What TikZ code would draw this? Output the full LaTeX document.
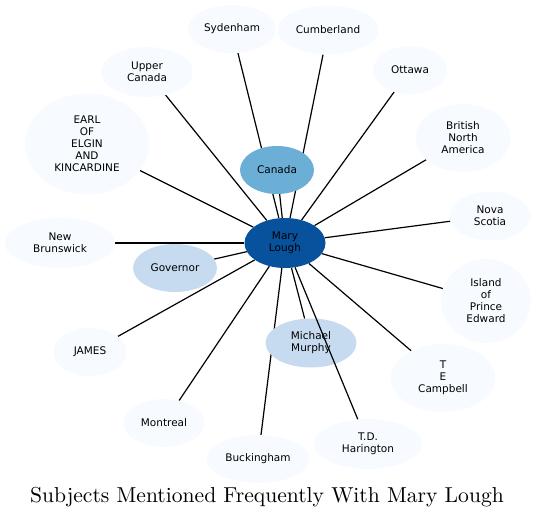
\documentclass[tikz,border=0pt]{standalone}
\usepackage{fontspec}
\newfontfamily\labelfont{DejaVu Sans}
\newfontfamily\titlefont{lmroman10-regular.otf}
\usetikzlibrary{shapes.geometric}
\pgfdeclarelayer{background}
\pgfsetlayers{background,main}
\definecolor{blue0}{HTML}{F7FBFF}
\definecolor{blue1}{HTML}{C6DBEF}
\definecolor{blue2}{HTML}{6BAED6}
\definecolor{blue3}{HTML}{08519C}

\begin{document}
\begin{tikzpicture}[x=1pt,y=-1pt]
\tikzstyle{subject}=[ellipse,fill=blue0,inner sep=0pt,align=center,
	font=\labelfont\fontsize{10.5}{12}\selectfont]
\tikzstyle{link}=[line width=1.2pt]
\useasboundingbox (0,0) rectangle (536,519);

% the subjects, at their places round Mary Lough
\node[subject,fill=blue3,minimum width=81pt,minimum height=50pt] (ml) at (285,243) {Mary\\Lough};
\node[subject,fill=blue2,minimum width=74pt,minimum height=48pt] (can) at (277,170) {Canada};
\node[subject,fill=blue1,minimum width=84pt,minimum height=48pt] (gov) at (175,268) {Governor};
\node[subject,fill=blue1,minimum width=91pt,minimum height=49pt] (mmu) at (311,343) {Michael\\Murphy};
\node[subject,minimum width=88pt,minimum height=48pt] (syd) at (232,29) {Sydenham};
\node[subject,minimum width=101pt,minimum height=49pt] (cum) at (328,30) {Cumberland};
\node[subject,minimum width=92pt,minimum height=50pt] (upc) at (147,72) {Upper\\Canada};
\node[subject,minimum width=124pt,minimum height=101pt] (earl) at (87,144) {EARL\\OF\\ELGIN\\AND\\KINCARDINE};
\node[subject,minimum width=110pt,minimum height=50pt] (nbr) at (60,243) {New\\Brunswick};
\node[subject,minimum width=74pt,minimum height=48pt] (ott) at (410,70) {Ottawa};
\node[subject,minimum width=95pt,minimum height=68pt] (bna) at (463,138) {British\\North\\America};
\node[subject,minimum width=81pt,minimum height=49pt] (nov) at (490,216) {Nova\\Scotia};
\node[subject,minimum width=90pt,minimum height=84pt] (ipe) at (486,301) {Island\\of\\Prince\\Edward};
\node[subject,minimum width=105pt,minimum height=68pt] (tec) at (443,378) {T\\E\\Campbell};
\node[subject,minimum width=108pt,minimum height=50pt] (tdh) at (368,444) {T.D.\\Harington};
\node[subject,minimum width=103pt,minimum height=48pt] (buc) at (258,459) {Buckingham};
\node[subject,minimum width=81pt,minimum height=48pt] (mon) at (164,423) {Montreal};
\node[subject,minimum width=73pt,minimum height=48pt] (jam) at (90,352) {JAMES};

% links, under the subjects
\begin{pgfonlayer}{background}
\foreach \n in {can,gov,mmu,syd,cum,upc,earl,nbr,ott,bna,nov,ipe,tec,buc,mon,jam}
	\draw[link] (ml) -- (\n);
\end{pgfonlayer}
\draw[link] (ml) -- (tdh);

\node (title) at (267,497) {\titlefont\fontsize{21.6}{25}\selectfont Subjects Mentioned Frequently With Mary Lough};
\end{tikzpicture}
\end{document}
